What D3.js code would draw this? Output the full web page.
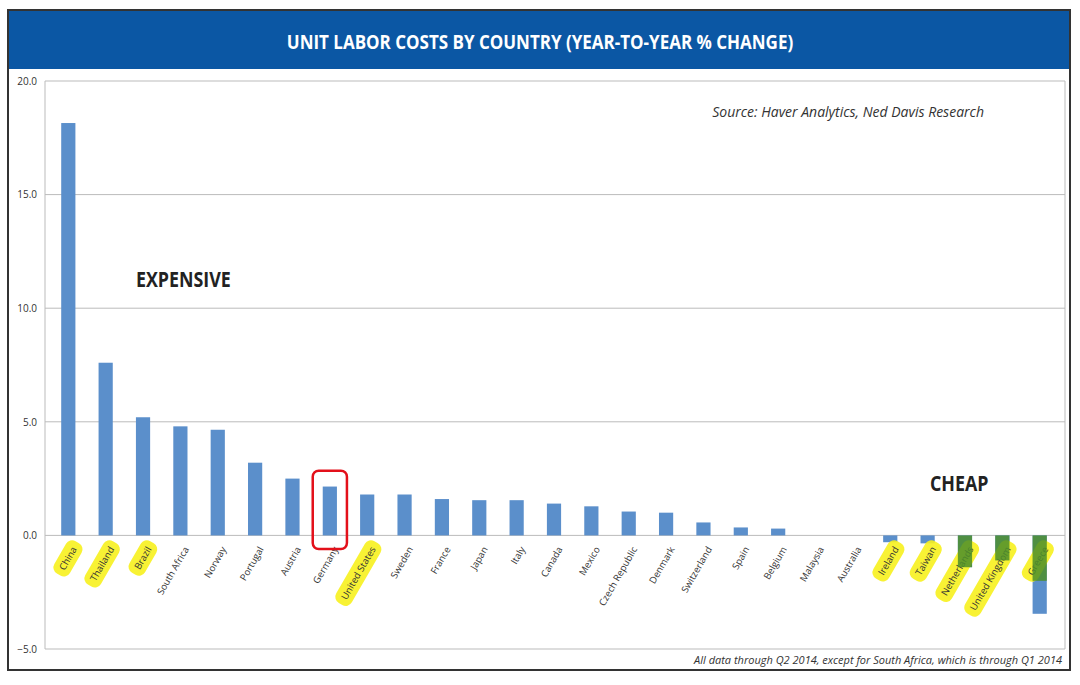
<!DOCTYPE html>
<html><head><meta charset="utf-8">
<script src="https://cdn.jsdelivr.net/npm/d3@7"></script>
<style>body{margin:0;background:#fff;font-family:"Open Sans",sans-serif}</style>
</head><body><svg id="c" width="1080" height="685"></svg>
<script>
var countries = ["China","Thailand","Brazil","South Africa","Norway","Portugal","Austria","Germany","United States","Sweden","France","Japan","Italy","Canada","Mexico","Czech Republic","Denmark","Switzerland","Spain","Belgium","Malaysia","Australia","Ireland","Taiwan","Netherlands","United Kingdom","Greece"];
var values = [18.15,7.6,5.2,4.8,4.65,3.2,2.5,2.15,1.8,1.8,1.6,1.55,1.55,1.4,1.28,1.05,1.0,0.57,0.35,0.3,0,0,-0.3,-0.35,-1.4,-1.1,-3.45];
var highlighted = ["China","Thailand","Brazil","United States","Ireland","Taiwan","Netherlands","United Kingdom","Greece"];
var greenExtent = {"Netherlands":-1.4,"United Kingdom":-1.1,"Greece":-2.0};
var yTicks = [20,15,10,5,0,-5];

var svg = d3.select('#c');
svg.append('rect').attr('x',8).attr('y',10).attr('width',1062).attr('height',660).attr('fill','#fff').attr('stroke','#333').attr('stroke-width',2);
svg.append('rect').attr('x',9).attr('y',11).attr('width',1060).attr('height',58).attr('fill','#0b57a4');
svg.append('text').attr('x',540).attr('y',49).attr('text-anchor','middle').attr('fill','#fff')
  .attr('font-size',20).attr('font-weight','bold').attr('font-family','"Open Sans"').attr('transform','translate(540,0) scale(0.85,1) translate(-540,0)')
  .text('UNIT LABOR COSTS BY COUNTRY (YEAR-TO-YEAR % CHANGE)');

var x = d3.scaleBand().domain(countries).range([50,1058]).paddingInner(0.62).paddingOuter(0.3);
var y = d3.scaleLinear().domain([-5,20]).range([649,81]);

var g = svg.append('g');
g.selectAll('.grid').data(yTicks).enter().append('line')
  .attr('x1',45).attr('x2',1065).attr('y1',function(d){return y(d);}).attr('y2',function(d){return y(d);})
  .attr('stroke','#bbb').attr('stroke-width',1);
g.append('line').attr('x1',45).attr('x2',45).attr('y1',81).attr('y2',649).attr('stroke','#bbb');
g.append('line').attr('x1',1065).attr('x2',1065).attr('y1',81).attr('y2',649).attr('stroke','#bbb');

var yAxis = d3.axisLeft(y).tickValues(yTicks).tickSize(0).tickFormat(d3.format('.1f'));
var ya = svg.append('g').attr('transform','translate(40,0)').call(yAxis);
ya.select('.domain').remove();
ya.selectAll('text').attr('font-size',10).attr('fill','#333').attr('font-family','"Open Sans"');

g.selectAll('.bar').data(countries).enter().append('rect')
  .attr('x',function(d){return x(d);}).attr('width',x.bandwidth())
  .attr('y',function(d,i){return y(Math.max(0,values[i]));})
  .attr('height',function(d,i){return Math.abs(y(values[i])-y(0));})
  .attr('fill','#5b8fcb');

// label highlights
countries.forEach(function(c,i){
  var cx = x(c)+x.bandwidth()/2;
  var lg = svg.append('g').attr('transform','translate('+(cx+6)+','+(y(0)+12)+') rotate(-60)');
  var t = lg.append('text').attr('text-anchor','end').attr('dy','0.35em').attr('font-size',9.5)
    .attr('fill','#333').attr('font-family','"Open Sans"').text(c);
  if (highlighted.indexOf(c) >= 0) {
    var w = t.node().getComputedTextLength();
    lg.insert('rect','text').attr('x',-w-6).attr('y',-9).attr('width',w+12).attr('height',18).attr('rx',7)
      .attr('fill','#f7f11e').attr('opacity',0.9);
  }
});
// bar parts seen through the yellow highlights
Object.keys(greenExtent).forEach(function(c){
  svg.append('rect').attr('x',x(c)).attr('width',x.bandwidth()).attr('y',y(0))
    .attr('height',y(greenExtent[c])-y(0)).attr('fill','#4e8f2a').attr('opacity',0.85);
});

// Germany marker
var gx = x('Germany');
svg.append('rect').attr('x',gx-10).attr('y',y(2.85)).attr('width',x.bandwidth()+20).attr('height',y(-0.6)-y(2.85))
  .attr('rx',6).attr('fill','none').attr('stroke','#e3101a').attr('stroke-width',2.5);

svg.append('text').attr('x',136).attr('y',287).attr('font-size',21).attr('font-weight','bold').attr('fill','#222')
  .attr('font-family','"Open Sans"').attr('transform','translate(136,0) scale(0.85,1) translate(-136,0)').text('EXPENSIVE');
svg.append('text').attr('x',930).attr('y',491).attr('font-size',21).attr('font-weight','bold').attr('fill','#222')
  .attr('font-family','"Open Sans"').attr('transform','translate(930,0) scale(0.85,1) translate(-930,0)').text('CHEAP');
svg.append('text').attr('x',984).attr('y',117).attr('text-anchor','end').attr('font-size',14).attr('font-style','italic')
  .attr('fill','#333').attr('font-family','"Open Sans"').text('Source: Haver Analytics, Ned Davis Research');
svg.append('text').attr('x',1062).attr('y',664).attr('text-anchor','end').attr('font-size',11).attr('font-style','italic')
  .attr('fill','#333').attr('font-family','"Open Sans"').text('All data through Q2 2014, except for South Africa, which is through Q1 2014');
</script></body></html>
